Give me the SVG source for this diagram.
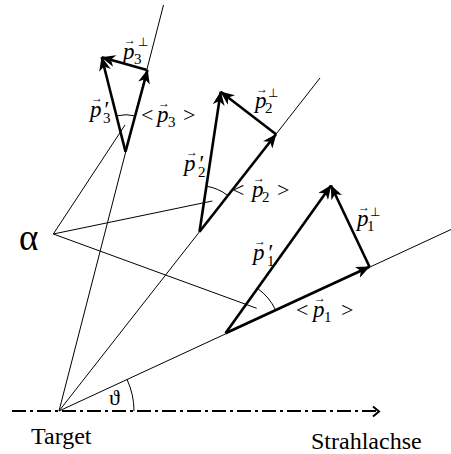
<svg xmlns="http://www.w3.org/2000/svg" width="451" height="454" viewBox="0 0 451 454">
<style>
.thin{stroke:#000;stroke-width:1;fill:none}
.vec{stroke:#000;stroke-width:2.6;fill:none;marker-end:url(#ah)}
.t{font-family:"Liberation Serif","Times New Roman",serif;fill:#000}
.p{font-style:italic;font-size:23px}
.s{font-size:15px}
.ar{font-size:12px}
.pp{font-size:12px}
.br{font-size:22px}
</style>
<defs>
<marker id="ah" markerUnits="userSpaceOnUse" viewBox="0 0 14 12" refX="13.5" refY="6" markerWidth="14" markerHeight="12" orient="auto">
<path d="M0,0 L14,6 L0,12 L4,6 z" fill="#000"/>
</marker>
</defs>
<rect width="451" height="454" fill="#fff"/>
<g id="connectors">
<line class="thin" x1="59" y1="411" x2="451" y2="229.5"/>
<line class="thin" x1="59" y1="411" x2="320" y2="78"/>
<line class="thin" x1="59" y1="411" x2="163.5" y2="5"/>
<line class="thin" x1="53.3" y1="234" x2="125" y2="125"/>
<line class="thin" x1="53.3" y1="234" x2="212.3" y2="201"/>
<line class="thin" x1="53.3" y1="234" x2="256.7" y2="308.3"/>
<path class="thin" d="M134,411 A75,75 0 0,0 127,379.4"/>
<path class="thin" d="M116.8,115.9 A37,37 0 0,1 135.2,115.9"/>
<path class="thin" d="M206.2,186.2 A46,46 0 0,1 227.6,195.4"/>
<path class="thin" d="M257.6,288.5 A55,55 0 0,1 275.6,310.1"/>
<line x1="12" y1="411" x2="376" y2="411" stroke="#000" stroke-width="2" stroke-dasharray="14,4,3,4"/>
<polyline points="373,406.5 379,411.5 373,416.5" fill="none" stroke="#000" stroke-width="2"/>
<line class="vec" x1="125.5" y1="151.7" x2="147.5" y2="70"/>
<line class="vec" x1="125.5" y1="151.7" x2="101.7" y2="57.3"/>
<line class="vec" x1="147" y1="70" x2="101.7" y2="57.3"/>
<line class="vec" x1="199.5" y1="231.7" x2="276" y2="134.3"/>
<line class="vec" x1="199.5" y1="231.7" x2="220.7" y2="91.7"/>
<line class="vec" x1="276" y1="134.3" x2="220.7" y2="91.7"/>
<line class="vec" x1="225.5" y1="333.3" x2="369.5" y2="266.7"/>
<line class="vec" x1="225.5" y1="333.3" x2="331" y2="185.5"/>
<line class="vec" x1="369.5" y1="266.7" x2="331" y2="185.5"/>
</g>
<g id="node-target"><text class="t" x="31" y="444" font-size="24">Target</text></g>
<g id="node-axis"><text class="t" x="311" y="449" font-size="24">Strahlachse</text></g>
<g id="node-alpha"><text class="t" x="19" y="250" font-size="37">α</text></g>
<g id="node-theta"><text class="t" x="109" y="405" font-size="22">ϑ</text></g>
<g id="node-p3">
<text class="t"><tspan class="ar" x="124" y="44">→</tspan><tspan class="p" x="123" y="59">p</tspan><tspan class="s" x="134" y="64">3</tspan><tspan class="pp" x="138" y="46">⊥</tspan></text>
<text class="t"><tspan class="ar" x="91" y="102">→</tspan><tspan class="p" x="90" y="117">p</tspan><tspan class="p" x="103" y="117">′</tspan><tspan class="s" x="103" y="123">3</tspan></text>
<text class="t"><tspan class="br" x="141" y="122">&lt;</tspan><tspan class="ar" x="158" y="107">→</tspan><tspan class="p" x="157" y="122">p</tspan><tspan class="s" x="168" y="127">3</tspan><tspan class="br" x="183" y="122">&gt;</tspan></text>
</g>
<g id="node-p2">
<text class="t"><tspan class="ar" x="256" y="93">→</tspan><tspan class="p" x="255" y="108">p</tspan><tspan class="s" x="265" y="113">2</tspan><tspan class="pp" x="268" y="97">⊥</tspan></text>
<text class="t"><tspan class="ar" x="186" y="156">→</tspan><tspan class="p" x="184" y="171">p</tspan><tspan class="p" x="198" y="171">′</tspan><tspan class="s" x="198" y="177">2</tspan></text>
<text class="t"><tspan class="br" x="232" y="197">&lt;</tspan><tspan class="ar" x="253" y="182">→</tspan><tspan class="p" x="252" y="197">p</tspan><tspan class="s" x="262" y="202">2</tspan><tspan class="br" x="277" y="197">&gt;</tspan></text>
</g>
<g id="node-p1">
<text class="t"><tspan class="ar" x="358" y="211">→</tspan><tspan class="p" x="357" y="226">p</tspan><tspan class="s" x="367" y="231">1</tspan><tspan class="pp" x="370" y="216">⊥</tspan></text>
<text class="t"><tspan class="ar" x="254" y="245">→</tspan><tspan class="p" x="253" y="260">p</tspan><tspan class="p" x="267" y="260">′</tspan><tspan class="s" x="267" y="266">1</tspan></text>
<text class="t"><tspan class="br" x="296" y="317">&lt;</tspan><tspan class="ar" x="314" y="302">→</tspan><tspan class="p" x="313" y="317">p</tspan><tspan class="s" x="324" y="322">1</tspan><tspan class="br" x="341" y="317">&gt;</tspan></text>
</g>
</svg>
